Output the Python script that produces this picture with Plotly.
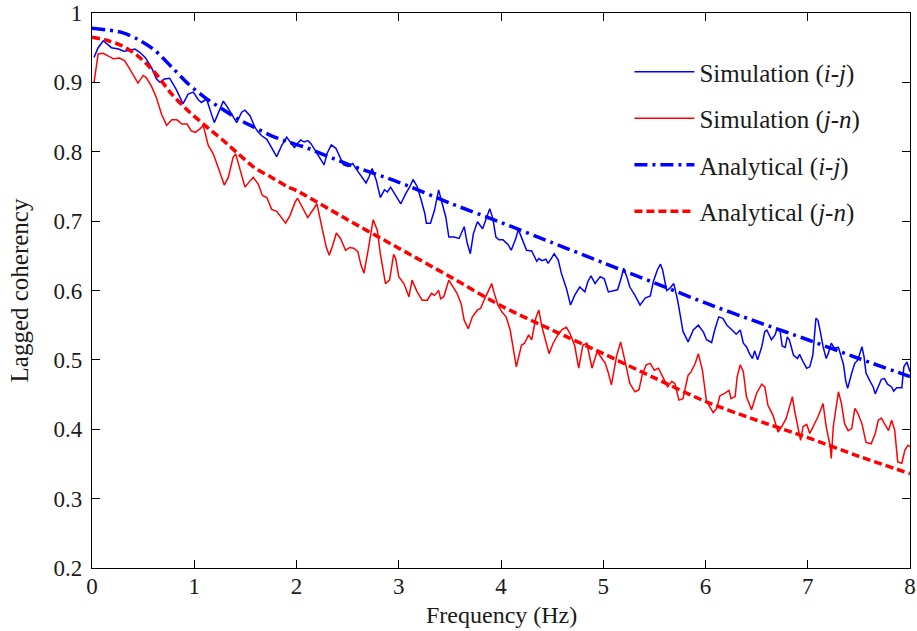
import plotly.graph_objects as go

# ---------------- data ----------------
sim_ij_x = [0.02, 0.06, 0.11, 0.19, 0.26, 0.31, 0.36, 0.42, 0.47, 0.52, 0.58, 0.63, 0.665, 0.71, 0.76, 0.83, 0.89, 0.94, 0.99,
            1.04, 1.07, 1.12, 1.196, 1.235, 1.284, 1.317, 1.366, 1.415, 1.464, 1.496, 1.545, 1.594, 1.627, 1.66, 1.71, 1.757,
            1.806, 1.855, 1.904, 1.953, 1.98, 2.01, 2.04, 2.075, 2.11, 2.14, 2.17, 2.22, 2.27, 2.30, 2.34, 2.385, 2.43, 2.46,
            2.505, 2.55, 2.58, 2.63, 2.68, 2.71, 2.74, 2.78, 2.82, 2.86, 2.89, 2.92, 2.955, 2.99, 3.02, 3.07, 3.11, 3.14,
            3.18, 3.22, 3.255, 3.27, 3.31, 3.35, 3.39, 3.42, 3.46, 3.49, 3.54, 3.59, 3.64, 3.67, 3.70, 3.73, 3.77, 3.82,
            3.85, 3.89, 3.92, 3.95, 3.98, 4.02, 4.07, 4.10, 4.14, 4.17, 4.21, 4.25, 4.30, 4.35, 4.37, 4.40, 4.44, 4.46,
            4.50, 4.52, 4.56, 4.59, 4.64, 4.68, 4.72, 4.77, 4.82, 4.85, 4.88, 4.92, 4.97, 5.01, 5.05, 5.10, 5.14, 5.17,
            5.20, 5.23, 5.26, 5.31, 5.36, 5.41, 5.46, 5.49, 5.53, 5.56, 5.58, 5.62, 5.65, 5.69, 5.73, 5.78, 5.83, 5.88,
            5.93, 5.98, 6.01, 6.06, 6.09, 6.13, 6.17, 6.21, 6.24, 6.26, 6.30, 6.34, 6.37, 6.40, 6.43, 6.46, 6.48, 6.51,
            6.55, 6.58, 6.60, 6.645, 6.68, 6.70, 6.73, 6.75, 6.78, 6.80, 6.82, 6.86, 6.90, 6.92, 6.955, 6.99, 7.02, 7.05,
            7.08, 7.10, 7.12, 7.15, 7.18, 7.20, 7.23, 7.26, 7.30, 7.32, 7.35, 7.37, 7.39, 7.43, 7.46, 7.49, 7.53, 7.55,
            7.57, 7.61, 7.64, 7.66, 7.69, 7.72, 7.75, 7.78, 7.82, 7.84, 7.87, 7.92, 7.94, 7.97, 8.0]
sim_ij_y = [0.936, 0.950, 0.960, 0.950, 0.948, 0.945, 0.946, 0.948, 0.943, 0.936, 0.922, 0.905, 0.900, 0.905, 0.906, 0.888, 0.869, 0.883, 0.886,
            0.875, 0.871, 0.876, 0.842, 0.857, 0.873, 0.866, 0.854, 0.842, 0.857, 0.860, 0.852, 0.835, 0.828, 0.823, 0.818, 0.806,
            0.793, 0.809, 0.821, 0.811, 0.806, 0.812, 0.817, 0.814, 0.816, 0.812, 0.805, 0.793, 0.781, 0.798, 0.810, 0.805, 0.790, 0.781,
            0.779, 0.783, 0.776, 0.766, 0.755, 0.764, 0.776, 0.759, 0.734, 0.745, 0.742, 0.749, 0.741, 0.733, 0.725, 0.740, 0.750, 0.760,
            0.750, 0.730, 0.711, 0.697, 0.697, 0.716, 0.745, 0.728, 0.706, 0.677, 0.677, 0.675, 0.692, 0.668, 0.653, 0.682, 0.699, 0.689,
            0.701, 0.718, 0.704, 0.677, 0.673, 0.673, 0.666, 0.658, 0.673, 0.688, 0.673, 0.658, 0.657, 0.642, 0.646, 0.643, 0.645, 0.639,
            0.648, 0.653, 0.644, 0.625, 0.603, 0.579, 0.593, 0.605, 0.598, 0.613, 0.621, 0.610, 0.620, 0.617, 0.598, 0.600, 0.601, 0.615,
            0.632, 0.620, 0.605, 0.593, 0.579, 0.589, 0.592, 0.613, 0.630, 0.638, 0.630, 0.600, 0.603, 0.610, 0.584, 0.541, 0.526, 0.543,
            0.550, 0.540, 0.529, 0.525, 0.543, 0.562, 0.560, 0.550, 0.545, 0.543, 0.537, 0.543, 0.524, 0.519, 0.509, 0.502, 0.513, 0.500,
            0.519, 0.541, 0.543, 0.529, 0.536, 0.545, 0.541, 0.520, 0.518, 0.533, 0.529, 0.507, 0.502, 0.508, 0.497, 0.488, 0.490, 0.507,
            0.560, 0.557, 0.543, 0.519, 0.502, 0.509, 0.524, 0.517, 0.518, 0.509, 0.493, 0.471, 0.459, 0.481, 0.495, 0.500, 0.519, 0.505,
            0.481, 0.469, 0.461, 0.451, 0.461, 0.472, 0.473, 0.465, 0.461, 0.455, 0.460, 0.460, 0.490, 0.497, 0.483]

sim_jn_x = [0.02, 0.06, 0.11, 0.16, 0.21, 0.27, 0.32, 0.37, 0.42, 0.45, 0.50, 0.53, 0.58, 0.63, 0.68, 0.73, 0.78, 0.83, 0.88, 0.93,
            0.97, 1.01, 1.056, 1.088, 1.137, 1.186, 1.235, 1.294, 1.333, 1.38, 1.405, 1.447, 1.496, 1.545, 1.578, 1.627, 1.666,
            1.71, 1.757, 1.806, 1.855, 1.894, 1.936, 1.985, 2.01, 2.06, 2.11, 2.16, 2.20, 2.24, 2.29, 2.32, 2.35, 2.39, 2.43,
            2.48, 2.52, 2.56, 2.60, 2.63, 2.66, 2.70, 2.75, 2.79, 2.82, 2.87, 2.91, 2.95, 2.97, 3.00, 3.05, 3.10, 3.13, 3.18,
            3.23, 3.28, 3.32, 3.35, 3.39, 3.41, 3.44, 3.49, 3.54, 3.57, 3.61, 3.64, 3.68, 3.72, 3.77, 3.80, 3.84, 3.87, 3.91,
            3.93, 3.97, 4.01, 4.05, 4.09, 4.13, 4.15, 4.20, 4.23, 4.27, 4.30, 4.34, 4.37, 4.40, 4.45, 4.47, 4.51, 4.56, 4.60,
            4.64, 4.675, 4.72, 4.76, 4.80, 4.84, 4.89, 4.94, 4.97, 5.02, 5.05, 5.08, 5.13, 5.17, 5.21, 5.26, 5.31, 5.35, 5.38,
            5.42, 5.46, 5.50, 5.54, 5.59, 5.63, 5.67, 5.70, 5.74, 5.78, 5.83, 5.86, 5.90, 5.93, 5.97, 6.01, 6.04, 6.075, 6.11,
            6.14, 6.19, 6.23, 6.25, 6.29, 6.31, 6.34, 6.37, 6.40, 6.45, 6.50, 6.55, 6.58, 6.61, 6.66, 6.71, 6.75, 6.79, 6.82,
            6.85, 6.87, 6.91, 6.93, 6.955, 6.99, 7.02, 7.06, 7.10, 7.15, 7.18, 7.22, 7.23, 7.25, 7.30, 7.33, 7.36, 7.395, 7.43,
            7.46, 7.49, 7.53, 7.57, 7.62, 7.66, 7.69, 7.72, 7.75, 7.79, 7.82, 7.85, 7.88, 7.92, 7.95, 7.98, 8.0]
sim_jn_y = [0.900, 0.941, 0.942, 0.938, 0.934, 0.935, 0.931, 0.919, 0.907, 0.899, 0.910, 0.907, 0.895, 0.878, 0.854, 0.838, 0.846, 0.846, 0.840, 0.840,
            0.830, 0.828, 0.833, 0.838, 0.809, 0.797, 0.777, 0.752, 0.763, 0.792, 0.797, 0.773, 0.749, 0.758, 0.763, 0.753, 0.737,
            0.734, 0.717, 0.714, 0.705, 0.697, 0.708, 0.727, 0.733, 0.718, 0.705, 0.716, 0.725, 0.697, 0.663, 0.651, 0.663, 0.683, 0.675,
            0.658, 0.662, 0.661, 0.656, 0.637, 0.625, 0.658, 0.702, 0.687, 0.653, 0.610, 0.615, 0.652, 0.646, 0.620, 0.610, 0.591, 0.615, 0.598,
            0.586, 0.586, 0.596, 0.593, 0.600, 0.588, 0.591, 0.615, 0.603, 0.596, 0.581, 0.557, 0.545, 0.562, 0.572, 0.574, 0.588, 0.598, 0.610,
            0.598, 0.579, 0.569, 0.562, 0.543, 0.505, 0.490, 0.521, 0.524, 0.536, 0.529, 0.560, 0.572, 0.548, 0.519, 0.509, 0.524, 0.537, 0.544,
            0.547, 0.538, 0.521, 0.488, 0.521, 0.524, 0.488, 0.512, 0.505, 0.495, 0.481, 0.464, 0.505, 0.526, 0.500, 0.466, 0.454, 0.457, 0.478,
            0.493, 0.495, 0.485, 0.488, 0.473, 0.461, 0.469, 0.466, 0.442, 0.444, 0.478, 0.483, 0.495, 0.509, 0.485, 0.440, 0.433, 0.424, 0.430,
            0.448, 0.452, 0.456, 0.444, 0.447, 0.476, 0.493, 0.483, 0.447, 0.428, 0.452, 0.465, 0.461, 0.435, 0.420, 0.396, 0.405, 0.416, 0.430,
            0.447, 0.428, 0.399, 0.384, 0.404, 0.407, 0.394, 0.406, 0.418, 0.437, 0.404, 0.375, 0.358, 0.404, 0.454, 0.437, 0.408, 0.398, 0.401,
            0.430, 0.423, 0.408, 0.381, 0.379, 0.394, 0.413, 0.416, 0.408, 0.398, 0.413, 0.399, 0.353, 0.351, 0.370, 0.377, 0.375]

ana_ij_x = [0, 0.29, 0.45, 0.616, 0.78, 0.94, 1.105, 1.27, 1.43, 1.59, 1.757, 1.92, 2.075, 2.5, 3.0, 3.5, 4.0, 4.5, 5.0, 5.5, 6.0, 6.5, 7.0, 7.5, 8.0]
ana_ij_y = [0.978, 0.972, 0.962, 0.946, 0.922, 0.898, 0.878, 0.862, 0.847, 0.835, 0.823, 0.814, 0.807, 0.782, 0.756, 0.726, 0.698, 0.669, 0.640, 0.611, 0.582, 0.555, 0.529, 0.502, 0.476]

ana_jn_x = [0, 0.16, 0.29, 0.45, 0.616, 0.78, 0.94, 1.105, 1.27, 1.43, 1.59, 1.757, 1.92, 2.0, 2.5, 3.0, 3.5, 4.0, 4.5, 5.0, 5.5, 6.0, 6.5, 7.0, 7.5, 8.0]
ana_jn_y = [0.965, 0.960, 0.953, 0.938, 0.914, 0.883, 0.859, 0.838, 0.818, 0.797, 0.777, 0.763, 0.749, 0.744, 0.702, 0.661, 0.620, 0.578, 0.543, 0.509, 0.474, 0.440, 0.413, 0.388, 0.361, 0.336]

x_ticks = [0, 1, 2, 3, 4, 5, 6, 7, 8]
y_ticks = [0.2, 0.3, 0.4, 0.5, 0.6, 0.7, 0.8, 0.9, 1.0]
y_tick_text = ["0.2", "0.3", "0.4", "0.5", "0.6", "0.7", "0.8", "0.9", "1"]

x_title = "Frequency (Hz)"
y_title = "Lagged coherency"
names = ["Simulation (<i>i</i>-<i>j</i>)", "Simulation (<i>j</i>-<i>n</i>)",
         "Analytical (<i>i</i>-<i>j</i>)", "Analytical (<i>j</i>-<i>n</i>)"]

FONT = "Liberation Serif"
TXT = "#1a1a1a"
BLUE = "#0000ff"
RED = "#ff0000"

fig = go.Figure()
fig.add_trace(go.Scatter(x=sim_ij_x, y=sim_ij_y, mode="lines", name=names[0], legendgroup="a",
                         line=dict(color=BLUE, width=1.5)))
fig.add_trace(go.Scatter(x=sim_jn_x, y=sim_jn_y, mode="lines", name=names[1], legendgroup="b",
                         line=dict(color=RED, width=1.5)))
fig.add_trace(go.Scatter(x=ana_ij_x, y=ana_ij_y, mode="lines", name=names[2], legendgroup="c",
                         line=dict(color=BLUE, width=3.5, dash="13px,5px,3px,5px", shape="spline", smoothing=0.8)))
fig.add_trace(go.Scatter(x=ana_jn_x, y=ana_jn_y, mode="lines", name=names[3], legendgroup="d",
                         line=dict(color=RED, width=3.5, dash="8px,4px", shape="spline", smoothing=0.8)))

axis_common = dict(showline=True, linecolor="black", linewidth=1.3, mirror="ticks",
                   ticks="inside", ticklen=8, tickwidth=1.2, tickcolor="black",
                   showgrid=False, zeroline=False, automargin=False,
                   tickfont=dict(family=FONT, size=23, color=TXT))

fig.update_xaxes(range=[0, 8], tickvals=x_ticks, ticklabelstandoff=-3, **axis_common)
fig.update_yaxes(range=[0.2, 1.0], tickvals=y_ticks, ticktext=y_tick_text, ticklabelstandoff=4,
                 title=dict(text=y_title, font=dict(family=FONT, size=25, color=TXT), standoff=17),
                 **axis_common)

fig.add_annotation(text=x_title, xref="paper", yref="paper", x=0.5, y=-0.0847,
                   xanchor="center", yanchor="middle", showarrow=False,
                   font=dict(family=FONT, size=24, color=TXT))

fig.update_layout(
    template="none",
    width=917, height=631,
    margin=dict(l=92, r=7, t=13, b=63),
    paper_bgcolor="white", plot_bgcolor="white",
    legend=dict(x=0.657, y=0.935, xanchor="left", yanchor="top",
                font=dict(family=FONT, size=25, color=TXT),
                bgcolor="rgba(255,255,255,0)", borderwidth=0,
                traceorder="grouped", tracegroupgap=11, itemwidth=60),
    showlegend=True,
)

fig.write_html("out.html", config={"displayModeBar": False},
               post_script="document.body.style.margin='0';")
